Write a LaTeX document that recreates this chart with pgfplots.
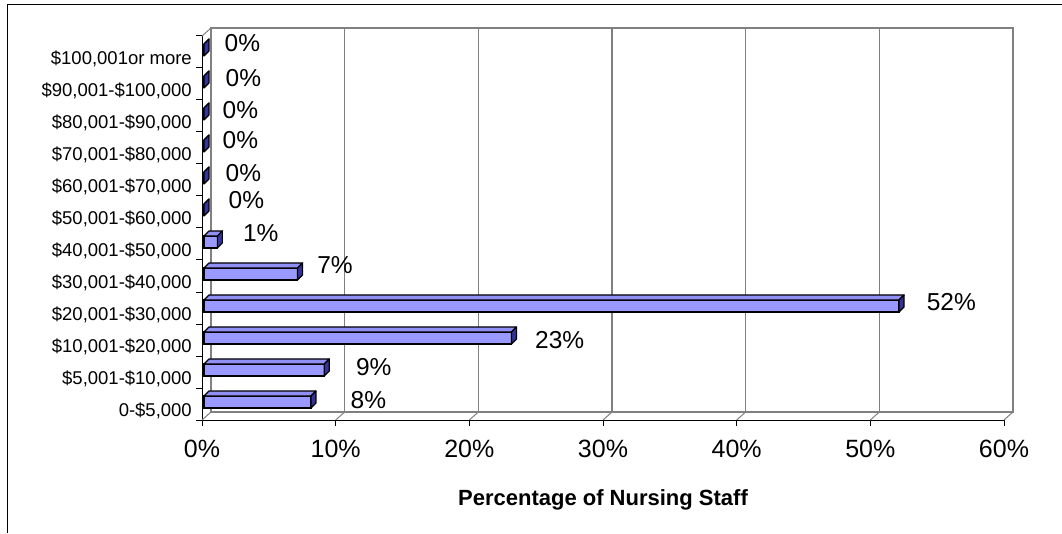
\documentclass[border=0pt]{standalone}
\usepackage{fontspec}
\setmainfont{Liberation Sans}
\usepackage{pgfplots}
\usepackage{pgfplotstable}
\pgfplotsset{compat=1.18}
\pgfplotsset{/pgf/number format/assume math mode=true}
\definecolor{barfront}{HTML}{9999FF}
\definecolor{bartop}{HTML}{8F8FF5}
\definecolor{barend}{HTML}{333399}
\definecolor{wallgray}{HTML}{808080}
\pgfdeclareplotmark{emptymark}{}

\pgfplotstableread{
y v dx dy
0 8 39 2
1 9 31 3
2 23 23 -2
3 52 27 4
4 7 19 9
5 1 25 9
6 0 24 10
7 0 21 5
8 0 18 6
9 0 18 4
10 0 21 4
11 0 20 7
}\datatable

\begin{document}
\begin{tikzpicture}
\useasboundingbox (0,0) rectangle (1062pt,533pt);
\draw[line width=1.5pt] (7.5pt,0) -- (7.5pt,528.3pt) -- (1062pt,528.3pt);
% back wall
\begin{axis}[at={(211pt,121pt)}, anchor=south west, scale only axis,
  width=802pt, height=384pt, xmin=0, xmax=60, ymin=-0.5, ymax=11.5,
  xtick={0,10,...,60}, ytick=\empty, xticklabels={}, major tick length=0pt,
  xmajorgrids, grid style={wallgray, line width=1.6pt},
  axis line style={wallgray, line width=1.6pt}]
\end{axis}
% bars
\begin{axis}[at={(204pt,115pt)}, anchor=south west, scale only axis,
  width=802pt, height=384pt, xmin=0, xmax=60, ymin=-0.5, ymax=11.5,
  hide axis, clip=false]
\addplot[xbar, bar width=12pt, bar shift=0pt, fill=barfront, draw=black, line width=1.4pt,
  point meta=x,
  visualization depends on={\thisrow{dx}\as\dx},
  visualization depends on={\thisrow{dy}\as\dy},
  nodes near coords={\pgfmathprintnumber[fixed,precision=0]{\pgfplotspointmeta}\%},
  every node near coord/.append style={anchor=west, inner sep=0pt, black,
    font=\fontsize{24.5}{24.5}\selectfont, xshift=\dx pt, yshift=\dy pt}]
  table[x=v, y=y] {\datatable};
\addplot[scatter, only marks, mark=emptymark,
  visualization depends on={\thisrow{v}\as\val},
  scatter/@pre marker code/.code={%
    \pgfmathsetmacro\L{-\val*13.36667}%
    \pgfmathsetmacro\Lb{5-\val*13.36667}%
    \filldraw[fill=bartop, draw=black, line width=1.2pt, line join=round] (\L pt,6pt) -- (0pt,6pt) -- (5pt,11pt) -- (\Lb pt,11pt) -- cycle;
    \filldraw[fill=barend, draw=black, line width=1.2pt, line join=round] (0pt,-6pt) -- (5pt,-1pt) -- (5pt,11pt) -- (0pt,6pt) -- cycle;
  },
  scatter/@post marker code/.code={}]
  table[x=v, y=y] {\datatable};
\end{axis}
% front axis
\begin{axis}[at={(202pt,113pt)}, anchor=south west, scale only axis,
  width=802pt, height=384pt, xmin=0, xmax=60, ymin=-0.5, ymax=11.5,
  clip=false,
  axis x line*=bottom, axis y line*=left,
  axis line style={black, line width=1pt, -},
  tick align=outside, major tick length=6pt,
  tick style={black, line width=1pt},
  xtick={0,10,...,60},
  xticklabel={\pgfmathprintnumber{\tick}\%},
  xticklabel style={font=\fontsize{25}{25}\selectfont, anchor=base, inner sep=0pt, yshift=-31pt},
  ytick={-0.5,0.5,...,11.5}, yticklabels={},
  extra y ticks={0,1,...,11},
  extra y tick labels={0-\$5{,}000,\$5{,}001-\$10{,}000,\$10{,}001-\$20{,}000,\$20{,}001-\$30{,}000,\$30{,}001-\$40{,}000,\$40{,}001-\$50{,}000,\$50{,}001-\$60{,}000,\$60{,}001-\$70{,}000,\$70{,}001-\$80{,}000,\$80{,}001-\$90{,}000,\$90{,}001-\$100{,}000,\$100{,}001or more},
  extra y tick style={major tick length=0pt,
    yticklabel style={font=\fontsize{18.5}{18.5}\selectfont, anchor=east, inner sep=0pt, xshift=-10pt, yshift=-7pt}},
  xlabel={Percentage of Nursing Staff},
  xlabel style={font=\fontsize{22}{22}\selectfont\bfseries, at={(axis description cs:0.5,0)}, anchor=base, inner sep=0pt, yshift=-85pt}]
\addplot[draw=none] coordinates {(0,0)};
\pgfplotsinvokeforeach{0,10,...,60}{\draw[wallgray, line width=1pt] (axis cs:#1,-0.5) -- ++(9pt,8pt);}
\draw[wallgray, line width=1pt] (axis cs:0,11.5) -- ++(9pt,8pt);
\end{axis}
\end{tikzpicture}
\end{document}
